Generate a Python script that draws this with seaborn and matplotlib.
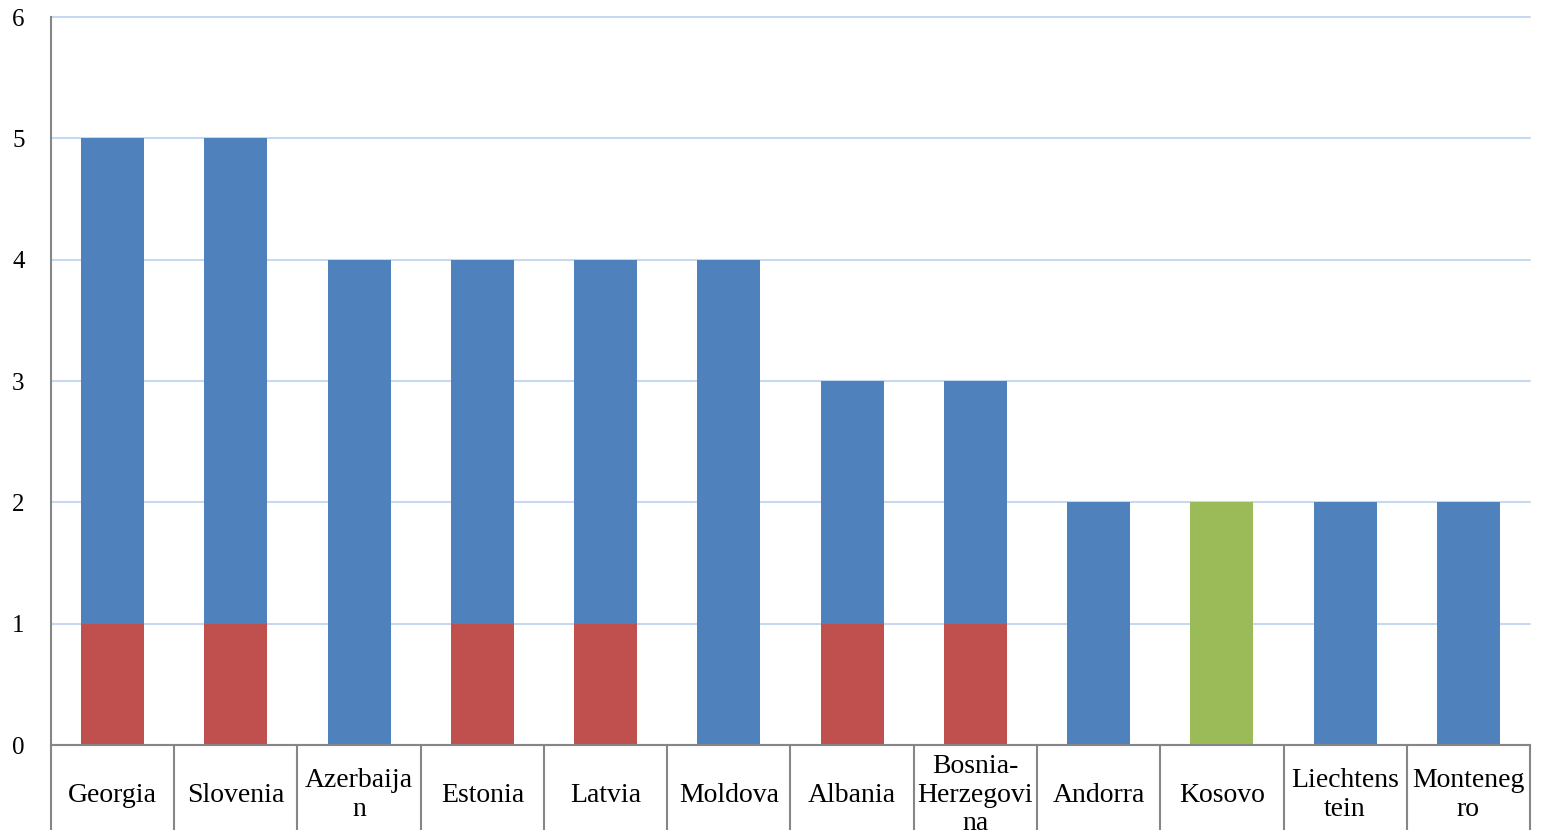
import numpy as np
import pandas as pd
import seaborn as sns
import matplotlib.pyplot as plt
from matplotlib.transforms import blended_transform_factory

# Values
countries = ['Georgia', 'Slovenia', 'Azerbaijan', 'Estonia', 'Latvia', 'Moldova',
             'Albania', 'Bosnia-Herzegovina', 'Andorra', 'Kosovo', 'Liechtenstein',
             'Montenegro']
tick_labels = ['Georgia', 'Slovenia', 'Azerbaija\nn', 'Estonia', 'Latvia', 'Moldova',
               'Albania', 'Bosnia-\nHerzegovi\nna', 'Andorra', 'Kosovo',
               'Liechtens\ntein', 'Monteneg\nro']
red_vals = [1, 1, 0, 1, 1, 0, 1, 1, 0, 0, 0, 0]
blue_vals = [4, 4, 4, 3, 3, 4, 2, 2, 2, 0, 2, 2]
green_vals = [0, 0, 0, 0, 0, 0, 0, 0, 0, 2, 0, 0]

df = pd.DataFrame({'country': countries, 'red': red_vals,
                   'blue': blue_vals, 'green': green_vals})
df['blue_base'] = df['red']
df['green_base'] = df['red'] + df['blue']

sns.set_style('white')
plt.rcParams['font.family'] = ['Liberation Serif', 'DejaVu Serif']
plt.rcParams['text.color'] = 'black'
plt.rcParams['ytick.color'] = 'black'

fig = plt.figure(figsize=(15.45, 8.3), dpi=100)
ax = fig.add_axes([0.033, 0.1024, 0.9573, 0.8771])

bw = 0.51
sns.barplot(data=df, x='country', y='red', color='#c0504d', width=bw,
            saturation=1, ax=ax, linewidth=0)
sns.barplot(data=df, x='country', y='blue', bottom=df['blue_base'], color='#4f81bd',
            width=bw, saturation=1, ax=ax, linewidth=0)
sns.barplot(data=df, x='country', y='green', bottom=df['green_base'], color='#9bbb59',
            width=bw, saturation=1, ax=ax, linewidth=0)

n = len(countries)
ax.set_xlim(-0.5, n - 0.5)
ax.set_ylim(0, 6)
ax.set_yticks(range(0, 7))
ax.set_yticklabels([str(v) for v in range(0, 7)], fontsize=18)
ax.tick_params(axis='y', length=0, pad=19)
ax.set_xticks([])
ax.set_xlabel('')
ax.set_ylabel('')

ax.grid(axis='y', color='#c6d9f1', linewidth=1.5)
ax.set_axisbelow(True)
for gl in ax.get_ygridlines():
    gl.set_clip_on(False)

for s in ['top', 'right']:
    ax.spines[s].set_visible(False)
for s in ['left', 'bottom']:
    ax.spines[s].set_color('#868686')
    ax.spines[s].set_linewidth(1.5)
ax.spines['left'].set_bounds(0, 6)

# category table below the axis
trans = blended_transform_factory(ax.transData, ax.transAxes)
for b in np.arange(-0.5, n, 1.0):
    ax.plot([b, b], [0, -0.2], transform=trans, color='#868686', lw=1.5,
            clip_on=False)
for i, lab in enumerate(tick_labels):
    ax.text(i, -0.0687, lab, transform=trans, ha='center', va='center',
            fontsize=20, linespacing=1.2, clip_on=False)

plt.savefig('out.png', dpi=100)
